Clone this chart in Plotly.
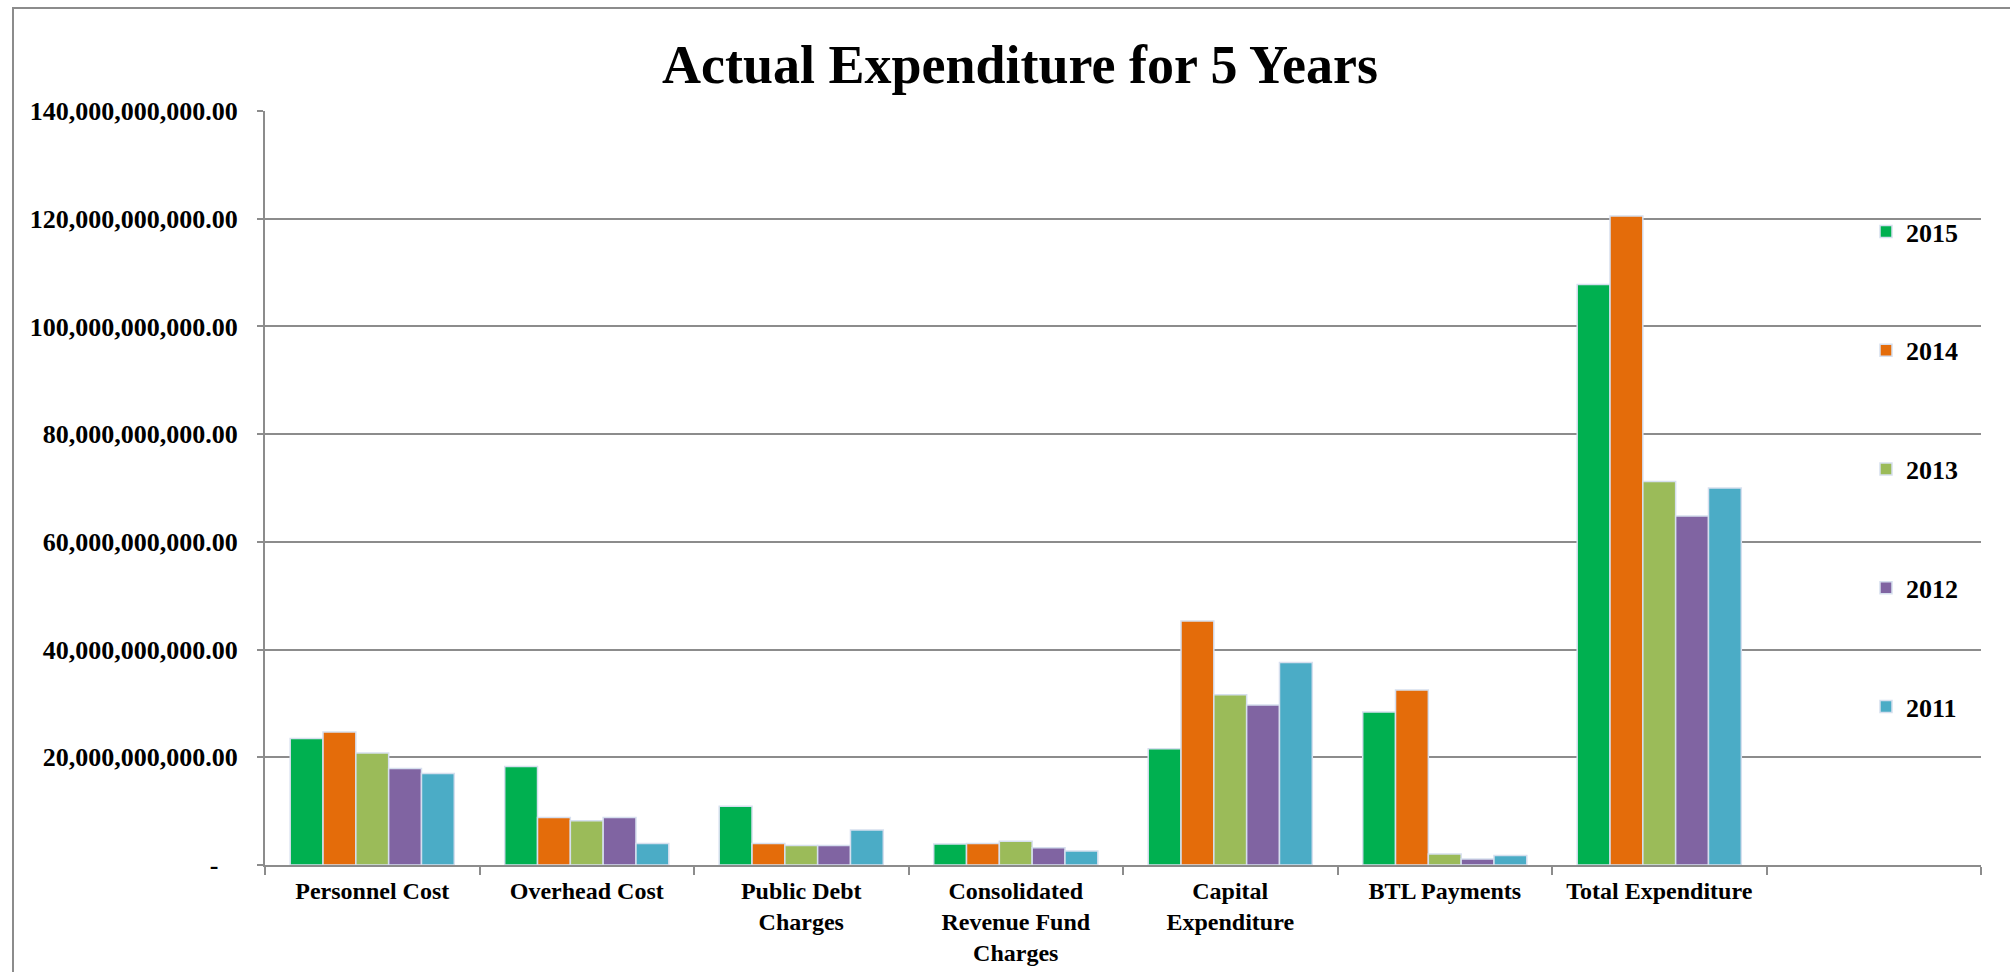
import plotly.graph_objects as go

categories = ["Personnel Cost", "Overhead Cost", "Public Debt<br>Charges",
              "Consolidated<br>Revenue Fund<br>Charges", "Capital<br>Expenditure",
              "BTL Payments", "Total Expenditure"]
axis_categories = categories + [" "]

years = ["2015", "2014", "2013", "2012", "2011"]
# values in billions
v2015 = [23.5, 18.3, 10.9, 3.9, 21.6, 28.4, 107.8]
v2014 = [24.7, 8.8, 4.0, 4.0, 45.3, 32.5, 120.5]
v2013 = [20.8, 8.2, 3.6, 4.4, 31.6, 2.05, 71.2]
v2012 = [17.9, 8.8, 3.6, 3.2, 29.7, 1.1, 64.8]
v2011 = [17.0, 4.0, 6.5, 2.6, 37.6, 1.75, 70.0]
series = [v2015, v2014, v2013, v2012, v2011]
colors = ["#00B050", "#E46C0A", "#9BBB59", "#8064A2", "#4BACC6"]

tick_vals = [0, 20e9, 40e9, 60e9, 80e9, 100e9, 120e9, 140e9]
tick_text = ["-\u00a0\u00a0\u00a0", "20,000,000,000.00", "40,000,000,000.00", "60,000,000,000.00",
             "80,000,000,000.00", "100,000,000,000.00", "120,000,000,000.00",
             "140,000,000,000.00"]

FONT = "Liberation Serif"
W, H = 2010, 972
L, R, T, B = 265, 1981, 111, 865

fig = go.Figure()
for yr, vals, col in zip(years, series, colors):
    fig.add_trace(go.Bar(
        name=yr, x=categories, y=[v * 1e9 for v in vals],
        marker=dict(color=col, line=dict(color="#D6DFEE", width=1.5)),
        legendgroup=yr,
    ))

def px_x(p):
    return (p - L) / (R - L)

def px_y(p):
    return (B - p) / (B - T)

fig.update_layout(
    width=W, height=H,
    margin=dict(l=L, r=W - R, t=T, b=H - B, pad=0, autoexpand=False),
    paper_bgcolor="white", plot_bgcolor="white",
    barmode="group", bargap=0.235, bargroupgap=0,
    font=dict(family=FONT, color="black"),
    title=dict(text="<b>Actual Expenditure for 5 Years</b>",
               font=dict(family=FONT, size=54, color="black"),
               x=1020 / W, xanchor="center", y=1 - 64 / H, yanchor="middle",
               xref="container", yref="container"),
    showlegend=True,
    legend=dict(x=px_x(1866), xanchor="left", y=px_y(208), yanchor="top",
                bgcolor="rgba(0,0,0,0)", tracegroupgap=82,
                font=dict(family=FONT, size=26, color="black", weight="bold"),
                itemclick=False),
    xaxis=dict(type="category", categoryorder="array", categoryarray=axis_categories,
               range=[-0.5, 7.5], showline=True, linecolor="#8C8C8C", linewidth=2,
               ticks="outside", tickson="boundaries", ticklen=8, tickwidth=2,
               tickcolor="#8C8C8C", showgrid=False, ticklabelstandoff=3,
               automargin=False,
               tickfont=dict(family=FONT, size=24, color="black", weight="bold")),
    yaxis=dict(range=[0, 140e9], tickvals=tick_vals, ticktext=tick_text,
               showline=True, linecolor="#8C8C8C", linewidth=2,
               ticks="outside", ticklen=6, tickwidth=2, tickcolor="#8C8C8C",
               showgrid=True, gridcolor="#8C8C8C", gridwidth=2,
               ticklabelstandoff=14, zeroline=False, automargin=False,
               tickfont=dict(family=FONT, size=26, color="black", weight="bold")),
    shapes=[dict(type="rect", xref="paper", yref="paper",
                 x0=px_x(13), x1=px_x(2030), y0=px_y(1000), y1=px_y(8),
                 line=dict(color="#8C8C8C", width=2), fillcolor="rgba(0,0,0,0)",
                 layer="below")],
)

fig.write_html("out.html")
